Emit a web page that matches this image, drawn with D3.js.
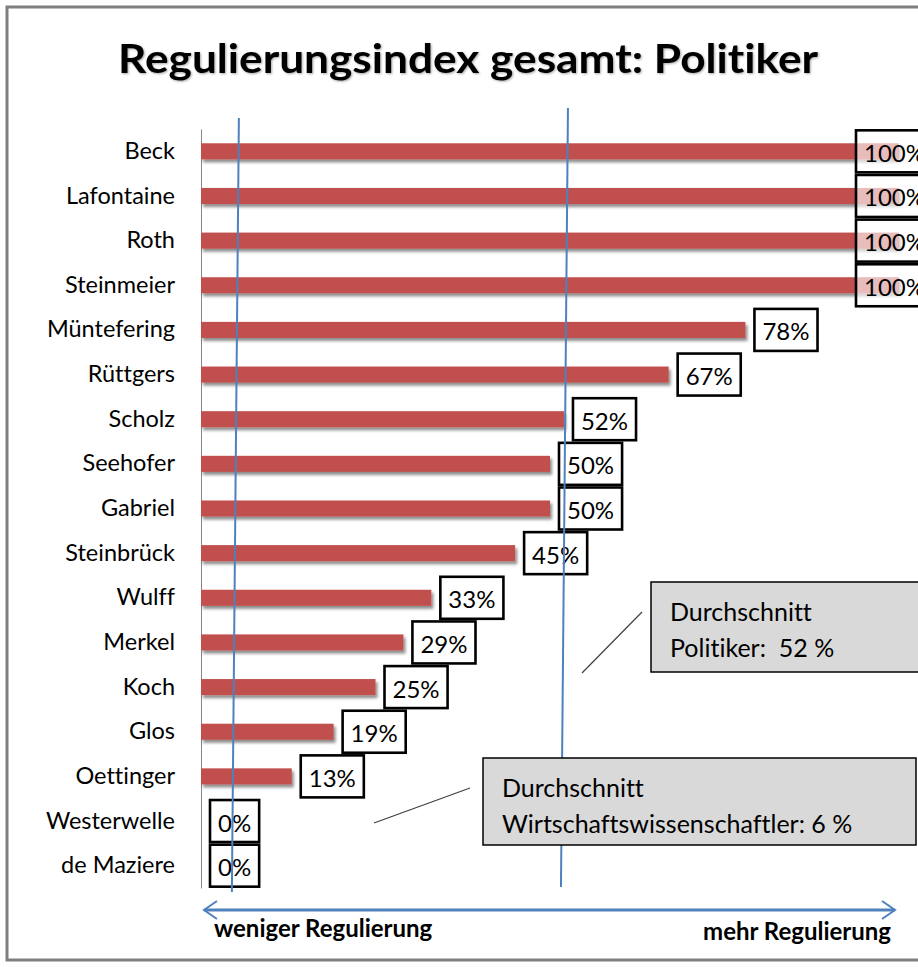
<!DOCTYPE html>
<html>
<head>
<meta charset="utf-8">
<script src="https://cdn.jsdelivr.net/npm/d3@7"></script>
<style>
  body { margin: 0; background: #fff; }
  svg { font-family: Lato, "Open Sans", sans-serif; }
  text { white-space: pre; font-variant-ligatures: none; font-feature-settings: "liga" 0; }
</style>
</head>
<body>
<script>
// chart data
var titleText = "Regulierungsindex gesamt: Politiker";
var names = ["Beck", "Lafontaine", "Roth", "Steinmeier", "Müntefering", "Rüttgers", "Scholz",
             "Seehofer", "Gabriel", "Steinbrück", "Wulff", "Merkel", "Koch", "Glos",
             "Oettinger", "Westerwelle", "de Maziere"];
var values = [100, 100, 100, 100, 78, 67, 52, 50, 50, 45, 33, 29, 25, 19, 13, 0, 0];
var averageValues = [6, 52];
var noteLines = [["Durchschnitt", "Politiker:  52 %"],
                 ["Durchschnitt", "Wirtschaftswissenschaftler: 6 %"]];
var arrowLabels = ["weniger Regulierung", "mehr Regulierung"];

var width = 918, height = 967;
var blue = "#4f81bd", red = "#c0504d";

var svg = d3.select("body").append("svg")
    .attr("width", width)
    .attr("height", height);

// drop shadow for the bars
var defs = svg.append("defs");
var f = defs.append("filter").attr("id", "shadow")
    .attr("x", "-5%").attr("y", "-50%").attr("width", "110%").attr("height", "250%");
f.append("feDropShadow")
    .attr("dx", 2).attr("dy", 3).attr("stdDeviation", 1.5)
    .attr("flood-color", "#000").attr("flood-opacity", 0.45);

// outer frame (right side runs off the picture)
svg.append("rect")
    .attr("x", 7).attr("y", 7)
    .attr("width", 940).attr("height", 953)
    .attr("fill", "none")
    .attr("stroke", "#7f7f7f")
    .attr("stroke-width", 3);

// title
svg.append("text")
    .attr("x", 468).attr("y", 73)
    .attr("text-anchor", "middle")
    .attr("font-weight", "bold")
    .attr("font-size", 41)
    .attr("textLength", 700)
    .attr("lengthAdjust", "spacingAndGlyphs")
    .style("filter", "drop-shadow(1px 1px 1px rgba(0,0,0,0.35))")
    .text(titleText);

// scales
var xScale = d3.scaleLinear().domain([0, 100]).range([201, 899]);
var yScale = d3.scaleBand().domain(names).range([129, 888])
    .paddingInner(0.64).paddingOuter(0.32);

var data = names.map(function(n, i) { return {name: n, value: values[i]}; });

// category axis
var yAxis = svg.append("g")
    .attr("transform", "translate(" + xScale(0) + ",0)")
    .call(d3.axisLeft(yScale).tickSize(0).tickPadding(26));
yAxis.select(".domain").attr("stroke", "#868686").attr("stroke-width", 1);
yAxis.selectAll("text")
    .attr("font-family", "Lato, sans-serif")
    .attr("font-size", 23.5)
    .attr("fill", "#000");

// bars
svg.selectAll("rect.bar")
    .data(data)
    .enter()
    .append("rect")
    .attr("class", "bar")
    .attr("x", xScale(0))
    .attr("y", function(d) { return yScale(d.name); })
    .attr("width", function(d) { return xScale(d.value) - xScale(0); })
    .attr("height", yScale.bandwidth())
    .attr("fill", red)
    .attr("filter", "url(#shadow)");

// value labels in boxes
var labels = svg.selectAll("g.lab")
    .data(data)
    .enter()
    .append("g")
    .attr("class", "lab");

labels.append("rect");
labels.append("text")
    .attr("font-size", 24)
    .attr("fill", "#000")
    .attr("dominant-baseline", "central")
    .text(function(d) { return d.value + "%"; });

labels.each(function(d) {
    var g = d3.select(this);
    var t = g.select("text");
    var w = t.node().getComputedTextLength() + 16;
    var bx = Math.min(xScale(d.value) + 9, 856);
    var cy = yScale(d.name) + yScale.bandwidth() / 2;
    g.select("rect")
        .attr("x", bx).attr("y", cy - 21)
        .attr("width", w).attr("height", 42)
        .attr("fill", "#fff").attr("fill-opacity", 0.62)
        .attr("stroke", "#000").attr("stroke-width", 2.6);
    t.attr("x", bx + 8).attr("y", cy + 1);
});

// average lines (hand drawn, slightly tilted)
var lineTops = [118, 108], lineBottoms = [892, 887];
var lineShiftTop = [-4, 4], lineShiftBottom = [-11, -3];
svg.selectAll("line.avg")
    .data(averageValues)
    .enter()
    .append("line")
    .attr("class", "avg")
    .attr("x1", function(d, i) { return xScale(d) + lineShiftTop[i]; })
    .attr("x2", function(d, i) { return xScale(d) + lineShiftBottom[i]; })
    .attr("y1", function(d, i) { return lineTops[i]; })
    .attr("y2", function(d, i) { return lineBottoms[i]; })
    .attr("stroke", blue)
    .attr("stroke-width", 2);

// callout boxes
var notes = [
    {x: 651, y: 582, w: 300, h: 90, lead: [642, 612, 582, 673]},
    {x: 483, y: 758, w: 433, h: 87, lead: [470, 788, 374, 823]}
];
notes.forEach(function(n, i) {
    svg.append("line")
        .attr("x1", n.lead[0]).attr("y1", n.lead[1])
        .attr("x2", n.lead[2]).attr("y2", n.lead[3])
        .attr("stroke", "#404040").attr("stroke-width", 1.2);
    svg.append("rect")
        .attr("x", n.x).attr("y", n.y)
        .attr("width", n.w).attr("height", n.h)
        .attr("fill", "#d9d9d9")
        .attr("stroke", "#000").attr("stroke-width", 1.5);
    svg.append("text")
        .attr("font-size", 25)
        .attr("fill", "#000")
        .selectAll("tspan")
        .data(noteLines[i])
        .enter()
        .append("tspan")
        .attr("x", n.x + 19)
        .attr("y", function(d, j) { return n.y + 39 + j * 36; })
        .text(function(d) { return d; });
});

// direction arrow at the bottom
var arrowY = 910, ax0 = 204, ax1 = 895;
svg.append("line")
    .attr("x1", ax0).attr("x2", ax1)
    .attr("y1", arrowY).attr("y2", arrowY)
    .attr("stroke", blue).attr("stroke-width", 3);
svg.append("path")
    .attr("d", "M" + (ax0 + 13) + "," + (arrowY - 9) + "L" + ax0 + "," + arrowY + "L" + (ax0 + 13) + "," + (arrowY + 9))
    .attr("fill", "none").attr("stroke", blue).attr("stroke-width", 2);
svg.append("path")
    .attr("d", "M" + (ax1 - 13) + "," + (arrowY - 9) + "L" + ax1 + "," + arrowY + "L" + (ax1 - 13) + "," + (arrowY + 9))
    .attr("fill", "none").attr("stroke", blue).attr("stroke-width", 2);

svg.append("text")
    .attr("x", 214).attr("y", 937)
    .attr("font-size", 24).attr("font-weight", "bold")
    .text(arrowLabels[0]);
svg.append("text")
    .attr("x", 891).attr("y", 940)
    .attr("text-anchor", "end")
    .attr("font-size", 24).attr("font-weight", "bold")
    .text(arrowLabels[1]);
</script>
</body>
</html>
